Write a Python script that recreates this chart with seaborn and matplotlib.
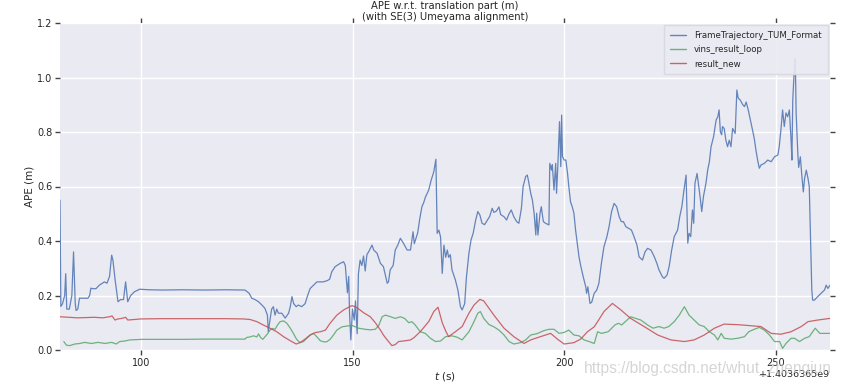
import numpy as np
import pandas as pd
import matplotlib
matplotlib.use("Agg")
import matplotlib.pyplot as plt
import seaborn as sns

# ---------------- data (time relative to offset, APE in m) ----------------
t_offset_label = "+1.4036365e9"
x_ticks = [100, 150, 200, 250]
y_ticks = [0.0, 0.2, 0.4, 0.6, 0.8, 1.0, 1.2]
series_names = ["FrameTrajectory_TUM_Format", "vins_result_loop", "result_new"]

blue_t = [80.9, 81.1, 81.5, 82.0, 82.25, 82.5, 83.1, 83.7, 84.1, 84.5, 84.7, 85.1, 85.5, 86.3, 87.5, 87.9,
          88.2, 88.6, 89.4, 90.2, 91.4, 92.0, 92.6, 93.1, 93.4, 93.9, 94.6, 95.2, 95.9, 96.4, 96.9, 97.6,
          98.5, 99.7, 102.0, 105.0, 110.0, 115.0, 120.0, 124.6, 125.0, 125.6, 126.2, 127.0, 127.8, 128.6,
          129.3, 129.9, 130.1, 130.5, 130.9, 131.3, 131.7, 132.1, 132.5, 133.3, 134.1, 134.9, 135.3, 135.7,
          136.1, 136.7, 137.2, 138.0, 138.8, 139.4, 140.0, 140.8, 141.6, 143.1, 144.1, 144.6, 145.1, 145.9,
          147.1, 147.9, 148.3, 148.5, 148.8, 149.1, 149.3, 149.6, 150.0, 150.4, 150.7, 151.1, 151.4, 151.8,
          152.2, 152.6, 153.0, 153.4, 153.8, 154.6, 155.0, 155.8, 156.6, 157.3, 158.2, 158.5, 158.9, 159.6,
          160.1, 160.7, 161.3, 162.1, 162.9, 163.7, 164.3, 164.6, 165.4, 165.9, 166.4, 166.8, 167.2, 168.0,
          168.6, 169.2, 169.7, 170.0, 170.4, 170.8, 171.2, 171.6, 172.0, 172.4, 172.7, 173.1, 173.5, 174.3,
          174.9, 175.5, 175.9, 176.5, 176.9, 177.5, 178.0, 178.5, 179.1, 179.6, 180.1, 180.6, 181.2, 181.8,
          182.4, 183.0, 183.4, 184.0, 184.6, 185.0, 185.8, 186.4, 186.9, 187.5, 188.1, 188.8, 189.3, 189.9,
          190.3, 190.9, 191.3, 191.7, 192.1, 192.5, 192.9, 193.3, 193.5, 193.8, 194.3, 194.6, 194.8, 195.1,
          195.6, 196.4, 196.6, 197.0, 197.2, 197.6, 198.0, 198.2, 198.5, 198.9, 199.2, 199.4, 199.6, 200.0,
          200.4, 200.8, 201.1, 201.5, 201.9, 202.3, 202.7, 203.1, 203.5, 203.9, 204.5, 205.1, 205.3, 205.6,
          206.1, 206.5, 207.1, 207.7, 208.2, 208.8, 209.4, 210.1, 210.6, 211.2, 211.8, 212.4, 213.0, 213.5,
          214.0, 214.6, 215.3, 215.9, 216.5, 217.2, 217.7, 218.5, 219.1, 219.7, 220.5, 221.3, 221.9, 222.4,
          223.2, 223.6, 224.3, 224.8, 225.4, 226.0, 226.8, 227.3, 227.8, 228.3, 228.8, 229.2, 229.5, 229.9,
          230.3, 230.6, 230.9, 231.4, 231.7, 232.1, 232.5, 232.9, 233.5, 233.9, 234.3, 234.7, 235.3, 235.9,
          236.3, 236.6, 236.9, 237.2, 237.4, 237.8, 238.2, 238.6, 239.0, 239.4, 239.8, 240.4, 240.6, 240.8,
          241.1, 241.6, 242.2, 242.6, 243.0, 243.5, 244.0, 244.5, 244.9, 245.3, 245.7, 246.1, 246.5, 247.3,
          248.1, 248.9, 249.7, 250.5, 250.8, 251.2, 251.6, 252.0, 252.4, 252.8, 253.2, 253.6, 253.8, 254.0,
          254.3, 254.4, 254.6, 254.8, 255.2, 255.4, 255.8, 256.1, 256.5, 256.8, 257.2, 257.6, 257.9, 258.2,
          258.5, 258.7, 259.1, 259.9, 260.7, 261.5, 261.9, 262.3, 262.8]
blue_v = [0.55, 0.16, 0.17, 0.20, 0.28, 0.15, 0.15, 0.20, 0.36, 0.17, 0.145, 0.15, 0.19, 0.19, 0.19, 0.20,
          0.227, 0.225, 0.225, 0.238, 0.25, 0.245, 0.27, 0.348, 0.33, 0.26, 0.177, 0.185, 0.185, 0.25, 0.177, 0.20,
          0.214, 0.223, 0.221, 0.22, 0.221, 0.22, 0.221, 0.22, 0.215, 0.208, 0.19, 0.185, 0.177, 0.165,
          0.153, 0.128, 0.067, 0.11, 0.15, 0.159, 0.128, 0.15, 0.135, 0.135, 0.117, 0.135, 0.159, 0.196,
          0.17, 0.159, 0.165, 0.159, 0.17, 0.20, 0.226, 0.238, 0.25, 0.25, 0.255, 0.26, 0.287, 0.306,
          0.318, 0.324, 0.31, 0.27, 0.21, 0.27, 0.135, 0.037, 0.15, 0.11, 0.18, 0.06, 0.28, 0.33,
          0.31, 0.345, 0.29, 0.35, 0.36, 0.385, 0.367, 0.355, 0.318, 0.306, 0.245, 0.25, 0.294, 0.31,
          0.367, 0.385, 0.41, 0.39, 0.367, 0.367, 0.434, 0.39, 0.43, 0.483, 0.526, 0.54, 0.56, 0.587,
          0.624, 0.654, 0.70, 0.428, 0.44, 0.415, 0.281, 0.385, 0.34, 0.367, 0.34, 0.35, 0.294, 0.257,
          0.22, 0.159, 0.147, 0.17, 0.265, 0.355, 0.404, 0.428, 0.477, 0.508, 0.495, 0.465, 0.46, 0.475,
          0.49, 0.52, 0.505, 0.51, 0.525, 0.497, 0.489, 0.477, 0.497, 0.514, 0.489, 0.471, 0.465, 0.52,
          0.60, 0.636, 0.642, 0.61, 0.575, 0.55, 0.502, 0.422, 0.502, 0.422, 0.502, 0.526, 0.502, 0.471,
          0.465, 0.459, 0.685, 0.66, 0.68, 0.587, 0.685, 0.575, 0.673, 0.838, 0.673, 0.862, 0.71, 0.697,
          0.697, 0.648, 0.60, 0.544, 0.526, 0.502, 0.44, 0.392, 0.342, 0.31, 0.269, 0.232, 0.208, 0.232,
          0.171, 0.175, 0.208, 0.22, 0.245, 0.318, 0.379, 0.416, 0.452, 0.508, 0.538, 0.526, 0.489, 0.471,
          0.471, 0.452, 0.446, 0.44, 0.416, 0.385, 0.342, 0.330, 0.36, 0.373, 0.367, 0.342, 0.318, 0.294,
          0.269, 0.263, 0.275, 0.306, 0.367, 0.416, 0.44, 0.489, 0.526, 0.587, 0.642, 0.392, 0.428, 0.416,
          0.514, 0.465, 0.612, 0.648, 0.612, 0.563, 0.508, 0.563, 0.612, 0.66, 0.69, 0.746, 0.783, 0.844,
          0.856, 0.881, 0.80, 0.79, 0.82, 0.813, 0.77, 0.746, 0.77, 0.746, 0.813, 0.795, 0.87, 0.954,
          0.925, 0.917, 0.90, 0.893, 0.91, 0.88, 0.844, 0.807, 0.777, 0.734, 0.697, 0.667, 0.679, 0.685,
          0.697, 0.691, 0.709, 0.716, 0.746, 0.807, 0.881, 0.82, 0.87, 0.856, 0.881, 0.771, 0.697, 0.917,
          1.01, 1.04, 1.07, 0.87, 0.72, 0.67, 0.709, 0.648, 0.58, 0.63, 0.66, 0.63, 0.60, 0.404,
          0.22, 0.183, 0.183, 0.196, 0.208, 0.22, 0.238, 0.226, 0.238]

green_t = [81.8, 82.4, 83.2, 84.4, 85.6, 86.7, 88.3, 89.9, 91.5, 93.1, 94.2, 95.0, 96.2, 97.4, 98.6, 100.2,
           105.0, 110.0, 115.0, 120.0, 124.6, 125.0, 125.8, 126.6, 127.4, 127.8, 128.3, 128.8, 129.3, 129.9,
           130.5, 131.1, 131.7, 132.3, 132.9, 133.7, 134.5, 135.3, 136.1, 136.8, 137.6, 138.4, 139.2, 140.0,
           140.8, 141.6, 142.4, 143.2, 143.9, 144.7, 145.5, 146.3, 147.5, 148.7, 149.9, 150.7, 151.4, 152.2,
           153.0, 154.2, 155.4, 156.2, 157.0, 157.8, 159.0, 160.1, 161.3, 162.3, 163.3, 164.0, 164.8, 166.0,
           167.2, 168.4, 169.6, 170.8, 172.0, 173.5, 174.7, 175.9, 176.7, 177.5, 178.7, 179.6, 180.2, 181.0,
           182.2, 183.4, 184.6, 185.8, 187.0, 188.1, 189.7, 190.9, 192.1, 193.6, 195.2, 196.4, 197.6, 198.8,
           199.9, 201.1, 202.3, 203.5, 204.7, 205.9, 207.1, 207.9, 208.8, 210.4, 212.0, 212.8, 213.6, 215.7,
           216.9, 218.1, 219.7, 221.0, 222.4, 223.6, 224.7, 226.0, 227.2, 228.4, 229.5, 230.7, 231.9, 233.1,
           234.3, 235.5, 236.3, 237.1, 237.8, 239.4, 241.0, 242.6, 243.6, 244.9, 246.1, 247.3, 248.5, 249.7,
           250.9, 251.6, 252.4, 253.6, 254.4, 255.6, 256.8, 257.9, 258.7, 259.3, 260.4, 261.6, 262.8]
green_v = [0.031, 0.018, 0.016, 0.022, 0.024, 0.028, 0.024, 0.028, 0.024, 0.028, 0.022, 0.031, 0.033, 0.037, 0.038, 0.039,
           0.039, 0.039, 0.04, 0.04, 0.04, 0.046, 0.048, 0.052, 0.048, 0.059, 0.046, 0.039, 0.048, 0.059,
           0.073, 0.079, 0.076, 0.092, 0.104, 0.107, 0.098, 0.08, 0.059, 0.039, 0.027, 0.031, 0.043, 0.055,
           0.061, 0.048, 0.034, 0.03, 0.03, 0.039, 0.055, 0.073, 0.085, 0.088, 0.09, 0.085, 0.08, 0.078,
           0.076, 0.074, 0.076, 0.09, 0.122, 0.128, 0.122, 0.116, 0.122, 0.116, 0.10, 0.104, 0.092, 0.067,
           0.061, 0.043, 0.031, 0.033, 0.049, 0.052, 0.047, 0.037, 0.052, 0.067, 0.104, 0.135, 0.141, 0.116,
           0.094, 0.085, 0.073, 0.055, 0.031, 0.022, 0.027, 0.037, 0.055, 0.06, 0.071, 0.076, 0.076, 0.061,
           0.064, 0.073, 0.055, 0.052, 0.037, 0.031, 0.024, 0.067, 0.061, 0.067, 0.092, 0.098, 0.092, 0.122,
           0.116, 0.11, 0.092, 0.08, 0.086, 0.08, 0.086, 0.104, 0.128, 0.159, 0.128, 0.11, 0.092, 0.086,
           0.067, 0.055, 0.037, 0.061, 0.043, 0.04, 0.043, 0.049, 0.067, 0.076, 0.083, 0.073, 0.055, 0.031,
           0.031, 0.006, 0.024, 0.043, 0.043, 0.031, 0.043, 0.049, 0.067, 0.08, 0.061, 0.061, 0.061]

red_t = [80.9, 83.0, 85.0, 87.0, 89.0, 91.0, 92.6, 93.2, 93.9, 94.6, 95.5, 96.4, 96.9, 98.5, 100.0, 105.0,
         110.0, 115.0, 120.0, 124.2, 125.8, 127.4, 128.9, 130.5, 132.1, 133.7, 135.3, 136.7, 137.6, 138.8,
         140.0, 141.2, 142.4, 143.6, 144.7, 146.3, 147.9, 149.1, 149.9, 151.1, 152.6, 154.2, 155.4, 156.6,
         157.3, 158.2, 159.3, 160.1, 160.9, 162.5, 163.7, 164.5, 166.0, 168.0, 169.2, 170.2, 171.2, 172.0,
         172.7, 174.3, 175.9, 177.5, 178.7, 180.1, 181.0, 183.4, 185.8, 188.1, 190.5, 192.1, 194.4, 196.8,
         198.4, 200.0, 202.3, 203.9, 205.5, 207.1, 207.9, 209.4, 211.4, 213.4, 215.7, 218.9, 222.1, 225.2,
         228.4, 230.7, 233.1, 235.5, 237.8, 241.0, 243.4, 246.5, 248.9, 251.2, 253.6, 256.0, 257.6, 259.9,
         262.8]
red_v = [0.122, 0.12, 0.118, 0.119, 0.12, 0.118, 0.122, 0.125, 0.11, 0.114, 0.116, 0.12, 0.11, 0.112, 0.114, 0.115,
         0.115, 0.115, 0.115, 0.114, 0.112, 0.104, 0.092, 0.08, 0.067, 0.049, 0.034, 0.022, 0.027, 0.04,
         0.055, 0.064, 0.067, 0.073, 0.098, 0.128, 0.147, 0.157, 0.163, 0.155, 0.137, 0.122, 0.10, 0.073,
         0.055, 0.037, 0.016, 0.02, 0.031, 0.034, 0.037, 0.045, 0.067, 0.104, 0.141, 0.157, 0.10, 0.07,
         0.049, 0.067, 0.086, 0.135, 0.165, 0.186, 0.18, 0.128, 0.08, 0.049, 0.024, 0.037, 0.049, 0.061,
         0.04, 0.022, 0.027, 0.04, 0.067, 0.085, 0.104, 0.141, 0.171, 0.147, 0.116, 0.086, 0.055, 0.037,
         0.031, 0.037, 0.055, 0.08, 0.095, 0.093, 0.09, 0.086, 0.061, 0.058, 0.067, 0.086, 0.104, 0.11,
         0.116]

colors = ["#4C72B0", "#55A868", "#C44E52"]

# ---------------- plotting ----------------
sns.set_theme(style="darkgrid")
plt.rcParams["font.family"] = ["DejaVu Sans"]

fig = plt.figure(figsize=(8.46, 3.85), dpi=100)
ax = fig.add_axes([60 / 846, 1 - 350 / 385, (830 - 60) / 846, (350 - 23) / 385])

frames = [pd.DataFrame({"t": blue_t, "ape": blue_v}),
          pd.DataFrame({"t": green_t, "ape": green_v}),
          pd.DataFrame({"t": red_t, "ape": red_v})]
for df, name, c in zip(frames, series_names, colors):
    sns.lineplot(data=df, x="t", y="ape", ax=ax, color=c, linewidth=0.9,
                 alpha=0.85, label=name, sort=False, estimator=None)

ax.set_xlim(80.9, 262.8)
ax.set_ylim(0.0, 1.2)
ax.set_xticks(x_ticks)
ax.set_yticks(y_ticks)
ax.set_yticklabels([f"{v:.1f}" for v in y_ticks])
ax.grid(True, color="white", linewidth=1.0)
ax.tick_params(axis="both", which="major", direction="out", length=3.5, width=1,
               color="#444444", labelsize=7, labelcolor="#262626", pad=2,
               top=True, right=True, bottom=True, left=True)
for s in ax.spines.values():
    s.set_visible(False)

ax.set_xlabel("$t$ (s)", fontsize=7.5, color="#262626", labelpad=2)
ax.set_ylabel("APE (m)", fontsize=7.5, color="#262626", labelpad=2)
ax.set_title("APE w.r.t. translation part (m)\n(with SE(3) Umeyama alignment)",
             fontsize=7.2, color="#262626", pad=2.5, linespacing=1.1)

ax.annotate(t_offset_label, xy=(1.0, 0.0), xycoords="axes fraction",
            xytext=(0, -21), textcoords="offset points", ha="right", va="bottom",
            fontsize=6.8, color="#262626")

leg = ax.legend(loc="upper right", fontsize=6.2, frameon=True, fancybox=False,
                borderpad=0.7, handlelength=1.9, handletextpad=0.9, labelspacing=0.55,
                borderaxespad=0.25)
leg.get_frame().set_facecolor("#EAEAF2")
leg.get_frame().set_edgecolor("#d8d8e0")
leg.get_frame().set_alpha(0.9)
for line in leg.get_lines():
    line.set_linewidth(1.0)

fig.text(584 / 846, 1 - 368 / 385, "https://blog.csdn.net/whut_zhengjun", fontsize=11.2,
         family=["Liberation Sans", "DejaVu Sans"],
         color="#c8c8c8", alpha=0.75, ha="left", va="center")

fig.savefig("out.png", dpi=100)
